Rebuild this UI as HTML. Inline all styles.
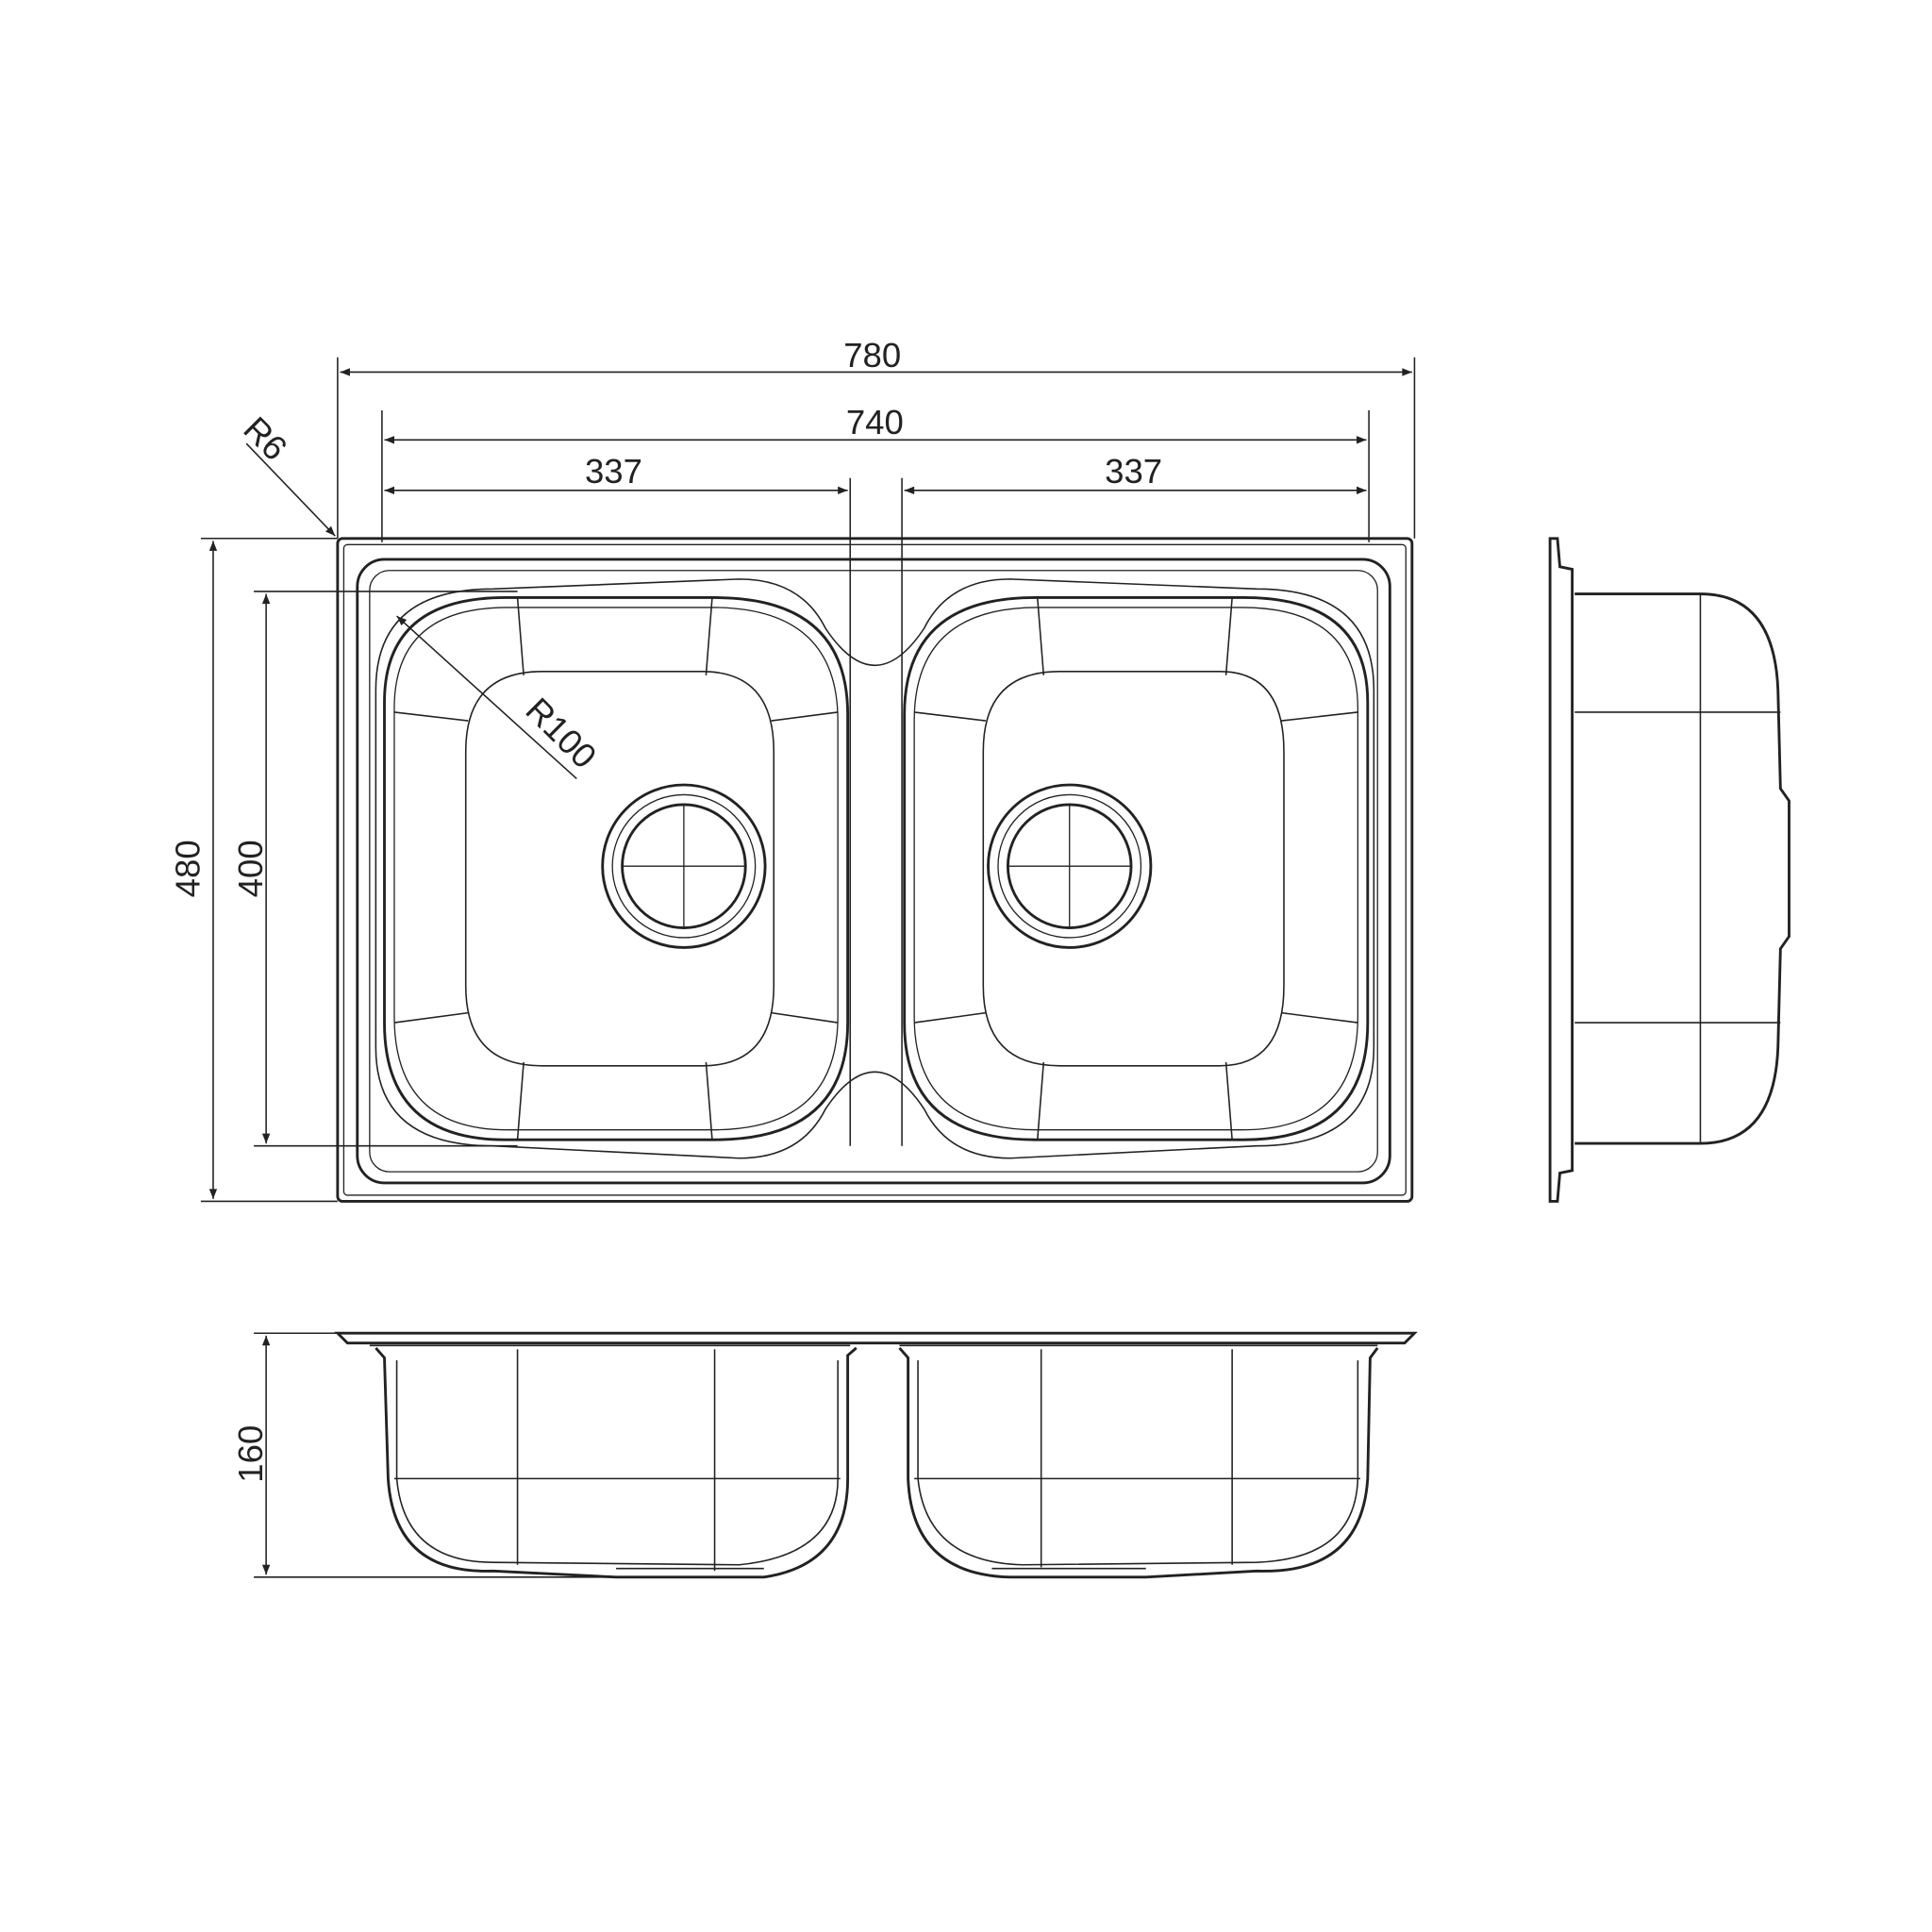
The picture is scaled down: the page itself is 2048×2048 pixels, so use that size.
<!DOCTYPE html>
<html><head><meta charset="utf-8"><style>
html,body{margin:0;padding:0;background:#fff}
svg{display:block}
text{font-family:"Liberation Sans",sans-serif;font-size:28px;fill:#222}
</style></head><body>
<svg width="2048" height="2048" viewBox="0 0 1568 1568" xmlns="http://www.w3.org/2000/svg">
<defs>
<marker id="a" viewBox="0 0 10 10" refX="10" refY="5" markerWidth="14" markerHeight="8" markerUnits="userSpaceOnUse" orient="auto-start-reverse"><path d="M0,1 L10,5 L0,9 z" fill="#222"/></marker>
</defs>
<g stroke="#222" fill="none" stroke-width="1.2">
<!-- dimension lines -->
<line x1="274" y1="290" x2="274" y2="437"/><line x1="1148" y1="290" x2="1148" y2="437"/>
<line x1="276" y1="302" x2="1146" y2="302" marker-start="url(#a)" marker-end="url(#a)"/>
<line x1="310" y1="333" x2="310" y2="440"/><line x1="1111" y1="333" x2="1111" y2="440"/>
<line x1="312" y1="357" x2="1109" y2="357" marker-start="url(#a)" marker-end="url(#a)"/>
<line x1="690" y1="388" x2="690" y2="930"/><line x1="732" y1="388" x2="732" y2="930"/>
<line x1="312" y1="398" x2="688" y2="398" marker-start="url(#a)" marker-end="url(#a)"/>
<line x1="734" y1="398" x2="1109" y2="398" marker-start="url(#a)" marker-end="url(#a)"/>
<line x1="163" y1="437" x2="274" y2="437"/><line x1="163" y1="975" x2="274" y2="975"/>
<line x1="173" y1="439" x2="173" y2="973" marker-start="url(#a)" marker-end="url(#a)"/>
<line x1="206" y1="480" x2="420" y2="480"/><line x1="206" y1="930" x2="420" y2="930"/>
<line x1="216" y1="482" x2="216" y2="928" marker-start="url(#a)" marker-end="url(#a)"/>
<line x1="200" y1="360" x2="272" y2="435" marker-end="url(#a)"/>
<line x1="322" y1="500" x2="468" y2="632" marker-start="url(#a)"/>
<line x1="206" y1="1082" x2="290" y2="1082"/><line x1="206" y1="1280" x2="500" y2="1280"/>
<line x1="216" y1="1084" x2="216" y2="1278" marker-start="url(#a)" marker-end="url(#a)"/>
</g>
<g stroke="#222" fill="none" stroke-width="2.2">
<!-- top view -->
<rect x="274" y="437" width="872" height="538" rx="4"/>
<rect x="279" y="442" width="862" height="528" rx="3" stroke-width="1"/>
<rect x="290" y="454" width="838" height="506" rx="22"/>
<rect x="300" y="463" width="818" height="488" rx="16" stroke-width="1"/>
<path d="M305,560 Q305,478 400,478 L600,470 Q650,470 670,510 Q690,540 710,540 Q730,540 750,510 Q770,470 820,470 L1020,478 Q1115,478 1115,560 L1115,850 Q1115,930 1020,930 L820,940 Q770,940 750,900 Q730,870 710,870 Q690,870 670,900 Q650,940 600,940 L400,930 Q305,930 305,850 Z" stroke-width="1.2"/>
<path d="M312,570 Q312,485 410,485 L580,485 Q688,485 688,580 L688,830 Q688,925 580,925 L410,925 Q312,925 312,830 Z"/>
<path d="M320,575 Q320,493 412,493 L578,493 Q680,493 680,585 L680,825 Q680,917 578,917 L412,917 Q320,917 320,825 Z" stroke-width="1"/>
<path d="M734,580 Q734,485 840,485 L1010,485 Q1110,485 1110,570 L1110,830 Q1110,925 1010,925 L840,925 Q734,925 734,830 Z"/>
<path d="M742,585 Q742,493 842,493 L1008,493 Q1102,493 1102,575 L1102,825 Q1102,917 1008,917 L842,917 Q742,917 742,825 Z" stroke-width="1"/>
<g stroke-width="1.2">
<path d="M378,610 Q378,545 440,545 L570,545 Q628,545 628,610 L628,800 Q628,865 570,865 L440,865 Q378,865 378,800 Z"/>
<path d="M798,610 Q798,545 860,545 L990,545 Q1042,545 1042,610 L1042,800 Q1042,865 990,865 L860,865 Q798,865 798,800 Z"/>
<path d="M420,485 L425,548 M578,485 L573,548 M320,578 L380,585 M680,578 L626,585 M320,830 L380,822 M680,830 L626,822 M420,925 L425,862 M578,925 L573,862"/>
<path d="M842,485 L847,548 M1000,485 L995,548 M742,578 L800,585 M1102,578 L1040,585 M742,830 L800,822 M1102,830 L1040,822 M842,925 L847,862 M1000,925 L995,862"/>
</g>
<circle cx="555" cy="703" r="66"/><circle cx="555" cy="703" r="58" stroke-width="1"/><circle cx="555" cy="703" r="50"/>
<circle cx="868" cy="703" r="66"/><circle cx="868" cy="703" r="58" stroke-width="1"/><circle cx="868" cy="703" r="50"/>
<path d="M505,703 H605 M555,653 V753 M818,703 H918 M868,653 V753" stroke-width="1"/>
<!-- side view -->
<path d="M1258,437 L1264,437 L1266,460 L1276,462 L1276,950 L1266,952 L1264,975 L1258,975 Z"/>
<path d="M1278,482 L1380,482 Q1440,482 1443,560 L1445,640 L1452,650 L1452,760 L1445,770 L1443,850 Q1440,928 1380,928 L1278,928"/>
<path d="M1380,482 V928 M1278,578 L1445,578 M1278,830 L1445,830" stroke-width="1.2"/>
<!-- front view -->
<path d="M274,1082 L1148,1082 L1140,1090 L282,1090 Z"/>
<path d="M300,1092 L690,1092 M730,1092 L1118,1092" stroke-width="1.2"/>
<path d="M305,1094 L312,1102 L315,1200 Q320,1278 400,1275 L500,1280 L620,1280 Q688,1270 688,1200 L688,1100 L695,1094"/>
<path d="M322,1104 L322,1200 Q328,1268 400,1268 L600,1270 Q680,1262 680,1200 L680,1104" stroke-width="1.2"/>
<path d="M730,1094 L737,1102 L737,1200 Q740,1278 820,1280 L930,1280 L1020,1275 Q1105,1278 1110,1200 L1112,1102 L1118,1094"/>
<path d="M745,1104 L745,1200 Q752,1268 830,1270 L1020,1268 Q1100,1265 1102,1200 L1102,1104" stroke-width="1.2"/>
<path d="M420,1095 V1270 M580,1095 V1275 M845,1095 V1272 M1000,1095 V1270 M320,1200 H682 M742,1200 H1104" stroke-width="1.2"/>
<path d="M500,1273 L620,1273 M805,1273 L930,1273" stroke-width="1.2"/>
</g>
<text x="708" y="298" text-anchor="middle">780</text>
<text x="710" y="352" text-anchor="middle">740</text>
<text x="498" y="392" text-anchor="middle">337</text>
<text x="920" y="392" text-anchor="middle">337</text>
<text transform="translate(162,705) rotate(-90)" text-anchor="middle">480</text>
<text transform="translate(213,705) rotate(-90)" text-anchor="middle">400</text>
<text transform="translate(213,1180) rotate(-90)" text-anchor="middle">160</text>
<text transform="translate(196,350) rotate(45)">R6</text>
<text transform="translate(425,578) rotate(45)">R100</text>
</svg>
</body></html>
